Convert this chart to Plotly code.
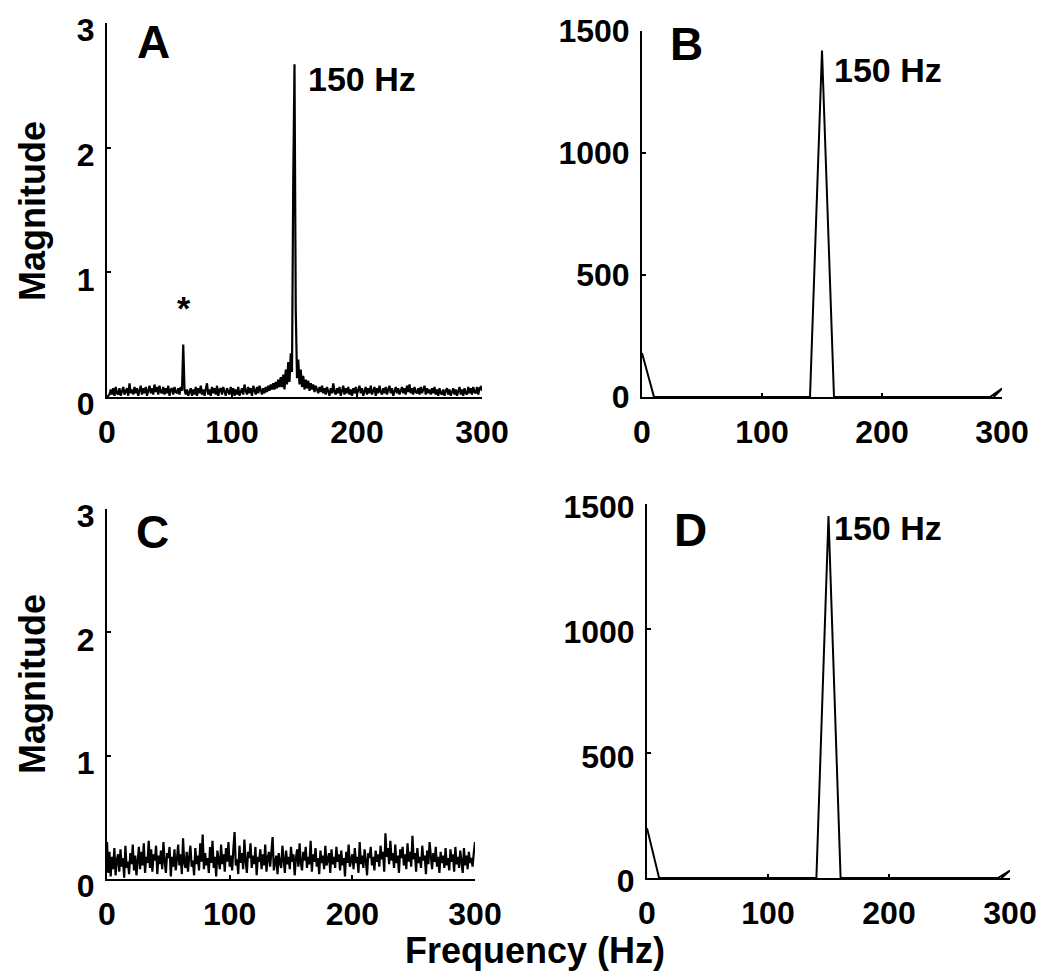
import plotly.graph_objects as go

# ---------------- data ----------------
freq_a = list(range(0, 301))
mag_a = [
    0.00, 0.01, 0.02, 0.06, 0.02, 0.07, 0.01, 0.08, 0.03, 0.02, 0.07, 0.01, 0.06, 0.08, 0.02, 0.04, 0.07, 0.01, 0.11, 0.03,
    0.06, 0.02, 0.08, 0.03, 0.07, 0.01, 0.06, 0.09, 0.02, 0.07, 0.03, 0.08, 0.01, 0.06, 0.09, 0.03, 0.07, 0.02, 0.10, 0.04,
    0.08, 0.02, 0.09, 0.04, 0.03, 0.08, 0.02, 0.07, 0.03, 0.09, 0.01, 0.06, 0.07, 0.02, 0.08, 0.04, 0.03, 0.07, 0.02, 0.08,
    0.05, 0.42, 0.06, 0.02, 0.06, 0.01, 0.04, 0.07, 0.01, 0.06, 0.02, 0.08, 0.01, 0.07, 0.03, 0.09, 0.02, 0.06, 0.01, 0.07,
    0.11, 0.02, 0.06, 0.01, 0.08, 0.03, 0.07, 0.02, 0.09, 0.01, 0.06, 0.07, 0.02, 0.08, 0.03, 0.01, 0.07, 0.05, 0.02, 0.08,
    0.03, 0.07, 0.01, 0.06, 0.02, 0.08, 0.01, 0.04, 0.07, 0.02, 0.10, 0.05, 0.02, 0.08, 0.03, 0.07, 0.01, 0.09, 0.04, 0.02,
    0.08, 0.03, 0.09, 0.04, 0.02, 0.07, 0.03, 0.08, 0.04, 0.09, 0.05, 0.10, 0.06, 0.11, 0.06, 0.12, 0.07, 0.14, 0.08, 0.16,
    0.08, 0.18, 0.06, 0.22, 0.10, 0.28, 0.12, 0.35, 0.20, 1.75, 2.67, 0.70, 0.15, 0.30, 0.10, 0.22, 0.08, 0.17, 0.06, 0.14,
    0.07, 0.13, 0.05, 0.11, 0.06, 0.10, 0.04, 0.09, 0.05, 0.03, 0.08, 0.04, 0.09, 0.03, 0.07, 0.02, 0.08, 0.04, 0.01, 0.07,
    0.03, 0.11, 0.04, 0.02, 0.07, 0.03, 0.08, 0.01, 0.06, 0.09, 0.02, 0.07, 0.03, 0.08, 0.02, 0.06, 0.01, 0.07, 0.03, 0.08,
    0.02, 0.06, 0.09, 0.03, 0.07, 0.01, 0.06, 0.08, 0.02, 0.07, 0.03, 0.09, 0.02, 0.06, 0.08, 0.01, 0.07, 0.03, 0.09, 0.04,
    0.02, 0.07, 0.03, 0.08, 0.02, 0.06, 0.09, 0.03, 0.07, 0.01, 0.06, 0.08, 0.03, 0.07, 0.02, 0.06, 0.08, 0.03, 0.07, 0.02,
    0.09, 0.04, 0.10, 0.03, 0.07, 0.02, 0.08, 0.04, 0.03, 0.07, 0.02, 0.08, 0.03, 0.06, 0.09, 0.02, 0.07, 0.03, 0.06, 0.02,
    0.07, 0.03, 0.08, 0.02, 0.06, 0.01, 0.07, 0.03, 0.02, 0.06, 0.01, 0.05, 0.07, 0.02, 0.06, 0.01, 0.05, 0.07, 0.02, 0.06,
    0.01, 0.05, 0.08, 0.02, 0.06, 0.01, 0.07, 0.03, 0.02, 0.08, 0.03, 0.07, 0.02, 0.08, 0.04, 0.03, 0.08, 0.02, 0.07, 0.08,
    0.05,
]

freq_b = [0, 10, 20, 30, 40, 50, 60, 70, 80, 90, 100, 110, 120, 130, 140, 150, 160, 170, 180, 190,
          200, 210, 220, 230, 240, 250, 260, 270, 280, 290, 300, 293]
mag_b = [180, 0, 0, 0, 0, 0, 0, 0, 0, 0, 0, 0, 0, 0, 0, 1420, 0, 0, 0, 0,
         0, 0, 0, 0, 0, 0, 0, 0, 0, 0, 35, 0]

freq_c = list(range(0, 301))
mag_c = [
    0.30, 0.05, 0.22, 0.02, 0.18, 0.08, 0.25, 0.03, 0.15, 0.20, 0.06, 0.24, 0.10, 0.17, 0.01, 0.27, 0.09, 0.14, 0.04, 0.21,
    0.12, 0.28, 0.07, 0.19, 0.03, 0.16, 0.26, 0.08, 0.22, 0.11, 0.29, 0.05, 0.18, 0.13, 0.31, 0.09, 0.24, 0.06, 0.20, 0.15,
    0.27, 0.04, 0.19, 0.12, 0.23, 0.08, 0.30, 0.14, 0.05, 0.21, 0.17, 0.26, 0.02, 0.18, 0.10, 0.24, 0.07, 0.16, 0.28, 0.11,
    0.20, 0.04, 0.33, 0.13, 0.09, 0.22, 0.06, 0.18, 0.27, 0.10, 0.15, 0.03, 0.25, 0.12, 0.19, 0.07, 0.29, 0.14, 0.36, 0.08,
    0.21, 0.11, 0.17, 0.05, 0.26, 0.13, 0.31, 0.09, 0.18, 0.02, 0.23, 0.15, 0.08, 0.28, 0.12, 0.20, 0.06, 0.25, 0.14, 0.30,
    0.10, 0.19, 0.07, 0.24, 0.38, 0.11, 0.16, 0.04, 0.27, 0.13, 0.21, 0.08, 0.32, 0.15, 0.05, 0.22, 0.17, 0.29, 0.09, 0.19,
    0.12, 0.26, 0.03, 0.18, 0.14, 0.24, 0.08, 0.20, 0.11, 0.28, 0.06, 0.17, 0.22, 0.10, 0.25, 0.34, 0.07, 0.15, 0.19, 0.04,
    0.21, 0.13, 0.09, 0.27, 0.16, 0.05, 0.23, 0.12, 0.18, 0.08, 0.26, 0.14, 0.20, 0.03, 0.17, 0.24, 0.10, 0.29, 0.13, 0.07,
    0.22, 0.15, 0.26, 0.09, 0.18, 0.12, 0.31, 0.06, 0.20, 0.14, 0.25, 0.10, 0.17, 0.04, 0.23, 0.13, 0.19, 0.08, 0.27, 0.11,
    0.16, 0.21, 0.05, 0.24, 0.12, 0.18, 0.09, 0.26, 0.14, 0.20, 0.07, 0.23, 0.11, 0.17, 0.02, 0.22, 0.13, 0.28, 0.10, 0.16,
    0.20, 0.08, 0.25, 0.13, 0.18, 0.05, 0.30, 0.12, 0.19, 0.09, 0.24, 0.15, 0.03, 0.21, 0.17, 0.26, 0.11, 0.18, 0.07, 0.23,
    0.14, 0.20, 0.10, 0.27, 0.16, 0.22, 0.06, 0.37, 0.18, 0.25, 0.12, 0.31, 0.15, 0.21, 0.09, 0.28, 0.13, 0.19, 0.05, 0.24,
    0.17, 0.26, 0.11, 0.20, 0.08, 0.29, 0.14, 0.22, 0.10, 0.35, 0.16, 0.21, 0.06, 0.25, 0.13, 0.18, 0.09, 0.27, 0.15, 0.19,
    0.04, 0.23, 0.12, 0.30, 0.17, 0.08, 0.21, 0.14, 0.26, 0.10, 0.18, 0.05, 0.22, 0.13, 0.19, 0.09, 0.25, 0.11, 0.17, 0.07,
    0.24, 0.14, 0.20, 0.06, 0.26, 0.12, 0.18, 0.09, 0.23, 0.15, 0.05, 0.25, 0.11, 0.19, 0.08, 0.22, 0.13, 0.17, 0.10, 0.21,
    0.30,
]

freq_d = [0, 10, 20, 30, 40, 50, 60, 70, 80, 90, 100, 110, 120, 130, 140, 150, 160, 170, 180, 190,
          200, 210, 220, 230, 240, 250, 260, 270, 280, 290, 300, 293]
mag_d = [200, 0, 0, 0, 0, 0, 0, 0, 0, 0, 0, 0, 0, 0, 0, 1452, 0, 0, 0, 0,
         0, 0, 0, 0, 0, 0, 0, 0, 0, 0, 30, 0]

x_ticks = [0, 100, 200, 300]
y_ticks_small = [0, 1, 2, 3]
y_ticks_large = [0, 500, 1000, 1500]
panel_letters = ["A", "B", "C", "D"]
peak_label = "150 Hz"

# ---------------- figure ----------------
# page body has an 8px margin; the figure is sized to fit the 1050x980 window exactly
OFF = 8
W, H = 1050 - 2 * OFF, 980 - 2 * OFF
FONT = "Liberation Sans, Arial, sans-serif"

fig = go.Figure()

def line(x, y, xa, ya, w):
    fig.add_trace(go.Scatter(x=x, y=y, mode="lines", xaxis=xa, yaxis=ya,
                             line=dict(color="black", width=w),
                             showlegend=False, hoverinfo="skip"))

line(freq_a, mag_a, "x", "y", 2.2)
line(freq_b, mag_b, "x2", "y2", 2.0)
line(freq_c, mag_c, "x3", "y3", 2.2)
line(freq_d, mag_d, "x4", "y4", 2.0)

def px_x(p):
    return (p - OFF) / W

def px_y(p):
    return 1 - (p - OFF) / H

def px_dom_x(a, b):
    return [px_x(a), px_x(b)]

def px_dom_y(top, bottom):
    return [px_y(bottom), px_y(top)]

tickfont = dict(family=FONT, size=32, color="black", weight="bold")

def xaxis(dom, anchor):
    return dict(domain=dom, anchor=anchor, range=[0, 300], tickvals=x_ticks,
                showline=True, linecolor="black", linewidth=2, mirror=False,
                ticks="inside", ticklen=4, tickwidth=2, tickcolor="black",
                showgrid=False, zeroline=False, tickfont=tickfont,
                ticklabelstandoff=6, automargin=False, ticklabeloverflow="allow")

def yaxis(dom, anchor, rng, tv, shift):
    return dict(domain=dom, anchor=anchor, range=rng, tickvals=tv,
                showline=True, linecolor="black", linewidth=2, mirror=False,
                ticks="inside", ticklen=4, tickwidth=2, tickcolor="black",
                showgrid=False, zeroline=False, tickfont=tickfont,
                ticklabelstandoff=4, ticklabelshift=shift, automargin=False,
                ticklabeloverflow="allow")

fig.update_layout(
    width=W, height=H, autosize=False,
    margin=dict(l=0, r=0, t=0, b=0, pad=0, autoexpand=False),
    paper_bgcolor="white", plot_bgcolor="white",
    showlegend=False,
    xaxis=xaxis(px_dom_x(107, 482), "y"),
    yaxis=yaxis(px_dom_y(23, 397), "x", [0, 3], y_ticks_small, 7),
    xaxis2=xaxis(px_dom_x(642, 1002), "y2"),
    yaxis2=yaxis(px_dom_y(31, 397), "x2", [0, 1500], y_ticks_large, 0),
    xaxis3=xaxis(px_dom_x(107, 475), "y3"),
    yaxis3=yaxis(px_dom_y(509, 879), "x3", [0, 3], y_ticks_small, 7),
    xaxis4=xaxis(px_dom_x(647, 1010), "y4"),
    yaxis4=yaxis(px_dom_y(504, 878), "x4", [0, 1500], y_ticks_large, 3),
)

letter_font = dict(family=FONT, size=46, color="black", weight="bold")
label_font = dict(family=FONT, size=34, color="black", weight="bold")
title_font = dict(family=FONT, size=36, color="black", weight="bold")

ann = []
# panel letters (data coords of each panel)
ann.append(dict(x=37, y=2.85, xref="x", yref="y", text=panel_letters[0], font=letter_font))
ann.append(dict(x=37, y=1447, xref="x2", yref="y2", text=panel_letters[1], font=letter_font))
ann.append(dict(x=37, y=2.81, xref="x3", yref="y3", text=panel_letters[2], font=letter_font))
ann.append(dict(x=36, y=1396, xref="x4", yref="y4", text=panel_letters[3], font=letter_font))
# peak labels
ann.append(dict(x=204, y=2.55, xref="x", yref="y", text=peak_label, font=label_font))
ann.append(dict(x=205, y=1340, xref="x2", yref="y2", text=peak_label, font=label_font))
ann.append(dict(x=199, y=1404, xref="x4", yref="y4", text=peak_label, font=label_font))
# asterisk over 60 Hz line
ann.append(dict(x=61.5, y=0.71, xref="x", yref="y", text="*",
                font=dict(family=FONT, size=34, color="black", weight="bold")))
# axis titles
ann.append(dict(x=px_x(32), y=px_y(211), xref="paper", yref="paper", text="Magnitude",
                textangle=-90, font=title_font))
ann.append(dict(x=px_x(32), y=px_y(684), xref="paper", yref="paper", text="Magnitude",
                textangle=-90, font=title_font))
ann.append(dict(x=px_x(535), y=px_y(950), xref="paper", yref="paper", text="Frequency (Hz)",
                font=title_font))

for a in ann:
    a.update(showarrow=False, xanchor="center", yanchor="middle")
fig.update_layout(annotations=ann)

fig.write_html("out.html")
